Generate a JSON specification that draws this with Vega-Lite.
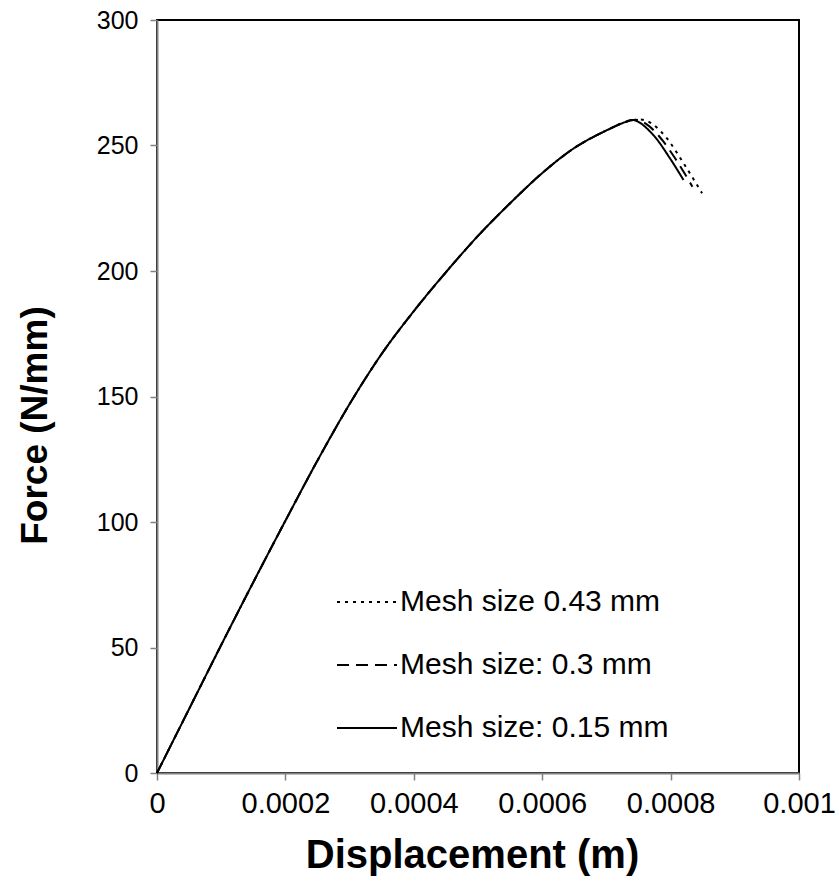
{
  "$schema": "https://vega.github.io/schema/vega-lite/v6.json",
  "autosize": {"type": "none"},
  "padding": {"left": 157, "top": 20, "right": 40, "bottom": 116},
  "width": 642,
  "height": 753,
  "background": "white",
  "config": {
    "font": "Liberation Sans",
    "view": {"stroke": "black", "strokeWidth": 2}
  },
  "data": {
    "values": [
      {"mesh": "Mesh size: 0.15 mm", "d": 0, "f": 0},
      {"mesh": "Mesh size: 0.15 mm", "d": 0.00005, "f": 25.5},
      {"mesh": "Mesh size: 0.15 mm", "d": 0.0001, "f": 51},
      {"mesh": "Mesh size: 0.15 mm", "d": 0.00015, "f": 76},
      {"mesh": "Mesh size: 0.15 mm", "d": 0.0002, "f": 100.5},
      {"mesh": "Mesh size: 0.15 mm", "d": 0.00025, "f": 124.5},
      {"mesh": "Mesh size: 0.15 mm", "d": 0.0003, "f": 147},
      {"mesh": "Mesh size: 0.15 mm", "d": 0.00035, "f": 167},
      {"mesh": "Mesh size: 0.15 mm", "d": 0.0004, "f": 184},
      {"mesh": "Mesh size: 0.15 mm", "d": 0.00045, "f": 199.5},
      {"mesh": "Mesh size: 0.15 mm", "d": 0.0005, "f": 214},
      {"mesh": "Mesh size: 0.15 mm", "d": 0.00055, "f": 227},
      {"mesh": "Mesh size: 0.15 mm", "d": 0.0006, "f": 239},
      {"mesh": "Mesh size: 0.15 mm", "d": 0.00065, "f": 249},
      {"mesh": "Mesh size: 0.15 mm", "d": 0.0007, "f": 256},
      {"mesh": "Mesh size: 0.15 mm", "d": 0.00073, "f": 259.4},
      {"mesh": "Mesh size: 0.15 mm", "d": 0.000739, "f": 260.2},
      {"mesh": "Mesh size: 0.15 mm", "d": 0.000773, "f": 254.2},
      {"mesh": "Mesh size: 0.15 mm", "d": 0.000799, "f": 244.9},
      {"mesh": "Mesh size: 0.15 mm", "d": 0.00082, "f": 236.3},

      {"mesh": "Mesh size: 0.3 mm", "d": 0, "f": 0},
      {"mesh": "Mesh size: 0.3 mm", "d": 0.00005, "f": 25.5},
      {"mesh": "Mesh size: 0.3 mm", "d": 0.0001, "f": 51},
      {"mesh": "Mesh size: 0.3 mm", "d": 0.00015, "f": 76},
      {"mesh": "Mesh size: 0.3 mm", "d": 0.0002, "f": 100.5},
      {"mesh": "Mesh size: 0.3 mm", "d": 0.00025, "f": 124.5},
      {"mesh": "Mesh size: 0.3 mm", "d": 0.0003, "f": 147},
      {"mesh": "Mesh size: 0.3 mm", "d": 0.00035, "f": 167},
      {"mesh": "Mesh size: 0.3 mm", "d": 0.0004, "f": 184},
      {"mesh": "Mesh size: 0.3 mm", "d": 0.00045, "f": 199.5},
      {"mesh": "Mesh size: 0.3 mm", "d": 0.0005, "f": 214},
      {"mesh": "Mesh size: 0.3 mm", "d": 0.00055, "f": 227},
      {"mesh": "Mesh size: 0.3 mm", "d": 0.0006, "f": 239},
      {"mesh": "Mesh size: 0.3 mm", "d": 0.00065, "f": 249},
      {"mesh": "Mesh size: 0.3 mm", "d": 0.0007, "f": 256},
      {"mesh": "Mesh size: 0.3 mm", "d": 0.00073, "f": 259.4},
      {"mesh": "Mesh size: 0.3 mm", "d": 0.000745, "f": 260.3},
      {"mesh": "Mesh size: 0.3 mm", "d": 0.000765, "f": 258},
      {"mesh": "Mesh size: 0.3 mm", "d": 0.000789, "f": 251.5},
      {"mesh": "Mesh size: 0.3 mm", "d": 0.000807, "f": 244.9},
      {"mesh": "Mesh size: 0.3 mm", "d": 0.000834, "f": 233.6},

      {"mesh": "Mesh size 0.43 mm", "d": 0, "f": 0},
      {"mesh": "Mesh size 0.43 mm", "d": 0.00005, "f": 25.5},
      {"mesh": "Mesh size 0.43 mm", "d": 0.0001, "f": 51},
      {"mesh": "Mesh size 0.43 mm", "d": 0.00015, "f": 76},
      {"mesh": "Mesh size 0.43 mm", "d": 0.0002, "f": 100.5},
      {"mesh": "Mesh size 0.43 mm", "d": 0.00025, "f": 124.5},
      {"mesh": "Mesh size 0.43 mm", "d": 0.0003, "f": 147},
      {"mesh": "Mesh size 0.43 mm", "d": 0.00035, "f": 167},
      {"mesh": "Mesh size 0.43 mm", "d": 0.0004, "f": 184},
      {"mesh": "Mesh size 0.43 mm", "d": 0.00045, "f": 199.5},
      {"mesh": "Mesh size 0.43 mm", "d": 0.0005, "f": 214},
      {"mesh": "Mesh size 0.43 mm", "d": 0.00055, "f": 227},
      {"mesh": "Mesh size 0.43 mm", "d": 0.0006, "f": 239},
      {"mesh": "Mesh size 0.43 mm", "d": 0.00065, "f": 249},
      {"mesh": "Mesh size 0.43 mm", "d": 0.0007, "f": 256},
      {"mesh": "Mesh size 0.43 mm", "d": 0.00073, "f": 259.4},
      {"mesh": "Mesh size 0.43 mm", "d": 0.000752, "f": 260.4},
      {"mesh": "Mesh size 0.43 mm", "d": 0.000772, "f": 258.5},
      {"mesh": "Mesh size 0.43 mm", "d": 0.000794, "f": 252.9},
      {"mesh": "Mesh size 0.43 mm", "d": 0.000822, "f": 242.2},
      {"mesh": "Mesh size 0.43 mm", "d": 0.000849, "f": 231}
    ]
  },
  "mark": {"type": "line", "color": "black", "strokeWidth": 2, "interpolate": "monotone"},
  "encoding": {
    "x": {
      "field": "d", "type": "quantitative",
      "scale": {"domain": [0, 0.001], "nice": false, "zero": true},
      "axis": {
        "values": [0, 0.0002, 0.0004, 0.0006, 0.0008, 0.001],
        "format": "~g",
        "title": "Displacement (m)",
        "titleFontSize": 40, "titleFontWeight": "bold", "titleColor": "black", "titlePadding": 17,
        "titleX": 315,
        "labelFontSize": 29, "labelColor": "black", "labelPadding": 9, "labelFlush": false,
        "domainColor": "#808080", "domainWidth": 2,
        "tickColor": "#808080", "tickWidth": 1.5, "tickSize": 7,
        "grid": false
      }
    },
    "y": {
      "field": "f", "type": "quantitative",
      "scale": {"domain": [0, 300], "nice": false},
      "axis": {
        "values": [0, 50, 100, 150, 200, 250, 300],
        "title": "Force (N/mm)",
        "titleFontSize": 37, "titleFontWeight": "bold", "titleColor": "black", "titlePadding": 42,
        "titleY": 405,
        "labelFontSize": 25, "labelColor": "black", "labelPadding": 12, "labelFlush": false,
        "domainColor": "#808080", "domainWidth": 2,
        "tickColor": "#808080", "tickWidth": 1.5, "tickSize": 7,
        "grid": false
      }
    },
    "strokeDash": {
      "field": "mesh", "type": "nominal",
      "scale": {
        "domain": ["Mesh size 0.43 mm", "Mesh size: 0.3 mm", "Mesh size: 0.15 mm"],
        "range": [[3, 5], [12, 7], [1, 0]]
      },
      "legend": {
        "orient": "none", "legendX": 179, "legendY": 551,
        "title": null,
        "symbolType": "stroke", "symbolSize": 3600, "symbolStrokeWidth": 2, "symbolStrokeColor": "black",
        "labelFontSize": 30, "labelColor": "black", "labelOffset": 2, "labelLimit": 400,
        "rowPadding": 17
      }
    }
  }
}
